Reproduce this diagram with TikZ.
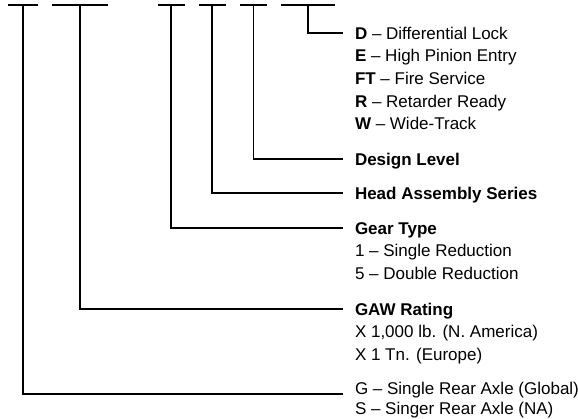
\documentclass[tikz,border=0pt]{standalone}
\usepackage{fontspec}
\setmainfont{Liberation Sans}
\usetikzlibrary{positioning}

\begin{document}
\begin{tikzpicture}[
      x=1pt, y=1pt,
      codebar/.style={rectangle, fill=black, inner sep=0pt, minimum height=2.6pt, minimum width=#1},
      lead/.style={line width=1.4pt, line cap=rect},
      lbl/.style={inner sep=0pt, outer xsep=13pt, outer ysep=0pt, anchor=west,
        text height=12.2pt, text depth=0pt, font=\fontsize{17}{20}\selectfont},
      nextline/.style={below=10.5pt of #1.south west, anchor=north west}
    ]
    \useasboundingbox (0,0) rectangle (578,-418);
    % Code positions
    \node[codebar=30pt] (bar1) at (23,-5) {};
    \node[codebar=56pt] (bar2) at (80,-5) {};
    \node[codebar=27pt] (bar3) at (171,-5) {};
    \node[codebar=27pt] (bar4) at (212,-5) {};
    \node[codebar=27pt] (bar5) at (253.5,-5) {};
    \node[codebar=54pt] (bar6) at (308,-5) {};
    % Options
    \node[lbl] (lockd) at (342,-33) {\textbf{D} -- Differential Lock};
    \node[lbl, nextline=lockd] (locke) {\textbf{E} -- High Pinion Entry};
    \node[lbl, nextline=locke] (lockft) {\textbf{FT} -- Fire Service};
    \node[lbl, nextline=lockft] (lockr) {\textbf{R} -- Retarder Ready};
    \node[lbl, nextline=lockr] (lockw) {\textbf{W} -- Wide-Track};
    % Design level, head series
    \node[lbl] (design) at (342,-159) {\bfseries Design Level};
    \node[lbl] (headser) at (342,-193) {\bfseries Head Assembly Series};
    % Gear type
    \node[lbl] (geartype) at (342,-228) {\bfseries Gear Type};
    \node[lbl, nextline=geartype] (gearone) {1 -- Single Reduction};
    \node[lbl, nextline=gearone] (gearfive) {5 -- Double Reduction};
    % GAW rating
    \node[lbl] (gawrate) at (342,-309) {\bfseries GAW Rating};
    \node[lbl, nextline=gawrate] (gawlb) {X 1,000 lb. (N. America)};
    \node[lbl, nextline=gawlb] (gawtn) {X 1 Tn. (Europe)};
    % Axle
    \node[lbl] (axleg) at (342,-388) {G -- Single Rear Axle (Global)};
    \node[lbl, below=8pt of axleg.south west, anchor=north west] (axles) {S -- Singer Rear Axle (NA)};
    % Leaders
    \draw[lead] (bar6.south) |- (lockd.west);
    \draw[lead] (bar5.south) |- (design.west);
    \draw[lead] (bar4.south) |- (headser.west);
    \draw[lead] (bar3.south) |- (geartype.west);
    \draw[lead] (bar2.south) |- (gawrate.west);
    \draw[lead] (bar1.south) |- ([yshift=-6pt]axleg.west);
\end{tikzpicture}
\end{document}
